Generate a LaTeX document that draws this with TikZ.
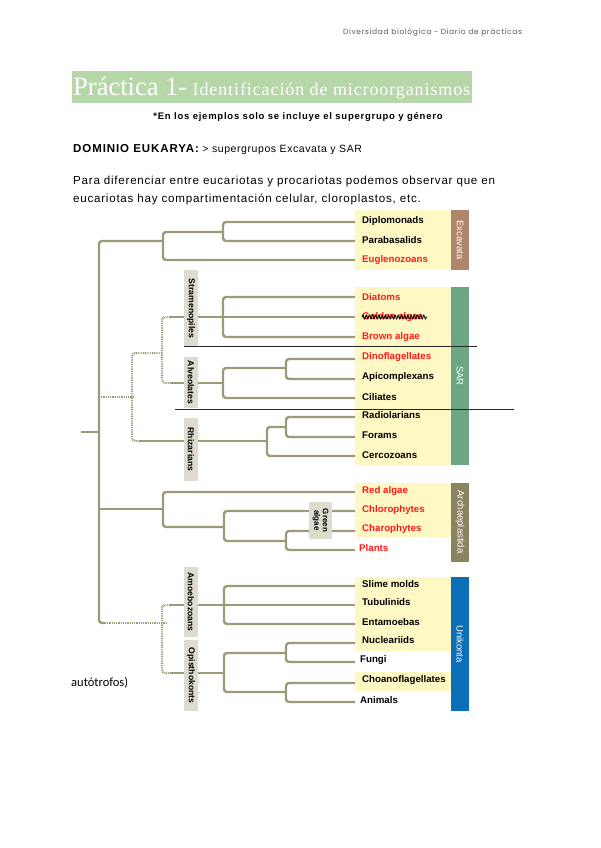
\documentclass[tikz,border=0pt]{standalone}
\usepackage{fontspec}
\setmainfont{Liberation Sans}
\newfontfamily\serifx{Liberation Serif}
\newfontfamily\serifsp[LetterSpace=5]{Liberation Serif}
\newfontfamily\hdrfont[LetterSpace=8.5]{Poppins}
\newfontfamily\calfont{Carlito}
\newfontfamily\spfont[LetterSpace=5.5]{Liberation Sans}
\newfontfamily\parfont[LetterSpace=6.5]{Liberation Sans}
\newfontfamily\notefont[LetterSpace=8]{Liberation Sans}
\newfontfamily\domfont[LetterSpace=8]{Liberation Sans}
\usetikzlibrary{decorations.pathmorphing}
\definecolor{brc}{HTML}{9C9A78}
\definecolor{ylw}{HTML}{FEF9C4}
\definecolor{gbox}{HTML}{DEDCCF}
\definecolor{titleg}{HTML}{B6D7A8}
\definecolor{excc}{HTML}{B0866A}
\definecolor{sarc}{HTML}{6BA785}
\definecolor{arcc}{HTML}{8A8462}
\definecolor{unic}{HTML}{0B6FB8}
\definecolor{redt}{HTML}{FF1A1A}
\tikzset{
  br/.style={draw=brc, line width=2.4pt, rounded corners=3pt},
  dotbr/.style={draw=brc, line width=2pt, dash pattern=on 0.9pt off 0.9pt, rounded corners=3pt},
  leaf/.style={anchor=west, inner sep=0pt, font=\fontsize{9.7}{10}\selectfont\bfseries},
  grp/.style={fill=gbox, inner sep=0pt, rotate=-90, font=\fontsize{8.6}{9}\selectfont\bfseries},
  bar/.style={inner sep=0pt, rotate=-90, text=white, font=\fontsize{9.5}{10}\selectfont},
  cut/.style={draw=black!85, line width=0.9pt}
}
\begin{document}
\begin{tikzpicture}[x=1pt,y=-1pt]
\useasboundingbox (0,0) rectangle (600,848);
% header
\node[anchor=west, inner sep=0pt, text=black!65, font=\hdrfont\fontsize{7.5}{8}\selectfont] (hdr) at (343,33) {Diversidad biológica - Diario de prácticas};
% title
\fill[titleg] (72,71) rectangle (472,103);
\node[anchor=base west, inner sep=0pt, text=white] (title) at (73,96) {\serifx\fontsize{26.5}{28}\selectfont Práctica 1-\serifsp\fontsize{18}{18}\selectfont{} Identificación de microorganismos};
% note
\node[inner sep=0pt, font=\notefont\fontsize{9.5}{10}\selectfont\bfseries] (note) at (298,117) {*En los ejemplos solo se incluye el supergrupo y género};
\node[anchor=west, inner sep=0pt] (dom) at (73,150) {\domfont\fontsize{11.5}{12}\selectfont\bfseries DOMINIO EUKARYA:\spfont\fontsize{10.5}{12}\selectfont\mdseries{} > supergrupos Excavata y SAR};
\node[anchor=west, inner sep=0pt, font=\parfont\fontsize{11.6}{17}\selectfont] (p1) at (73,182) {Para diferenciar entre eucariotas y procariotas podemos observar que en};
\node[anchor=west, inner sep=0pt, font=\parfont\fontsize{11.6}{17}\selectfont] (p2) at (73,199) {eucariotas hay compartimentación celular, cloroplastos, etc.};
\node[anchor=west, inner sep=0pt, font=\calfont\fontsize{12.5}{14}\selectfont] (auto) at (71,683) {autótrofos)};

% yellow boxes
\fill[ylw] (355,210) rectangle (451,270);
\fill[ylw] (355,287) rectangle (451,465);
\fill[ylw] (355,483) rectangle (451,537);
\fill[ylw] (355,577) rectangle (451,651);
\fill[ylw] (355,672) rectangle (451,691);
% colored bars
\fill[excc] (451,210) rectangle (469,270);
\fill[sarc] (451,287) rectangle (469,465);
\fill[arcc] (451,483) rectangle (469,562);
\fill[unic] (451,577) rectangle (469,711);
\node[bar] (exc) at (460,240) {Excavata};
\node[bar] (sar) at (460,376) {SAR};
\node[bar] (arc) at (460,522) {Archaeplastida};
\node[bar] (uni) at (460,644) {Unikonta};

% leaf coordinates
\foreach \n/\y in {dip/222,par/241,eug/260,dia/297,gol/317,bro/337,din/359,api/379,cil/398,rad/417,for/437,cer/456,red/492,chl/511,cha/531,pla/550,sli/586,tub/605,ent/624,nuc/643,fun/662,cho/683,ani/702}
  \coordinate (\n) at (355,\y);

% tree
\draw[br] (81,432) -- (99,432);
\draw[br] (163,241) -- (99,241) -- (99,623) -- (105,623);
\draw[dotbr] (105,623) -- (168,623);
% Excavata
\draw[br] (dip) -- (223,222) -- (223,241) -- (par);
\draw[br] (223,232) -- (163,232) -- (163,260) -- (eug);
% SAR
\draw[dotbr] (99,397) -- (134,397);
\draw[dotbr] (162,353) -- (132,353) -- (132,441) -- (140,441);
\draw[br] (140,441) -- (267,441);
\draw[dotbr] (170,317) -- (162,317) -- (162,383) -- (170,383);
\draw[br] (170,317) -- (gol);
\draw[br] (dia) -- (223,297) -- (223,337) -- (bro);
\draw[br] (170,383) -- (223,383);
\draw[br] (286,368) -- (223,368) -- (223,398) -- (cil);
\draw[br] (din) -- (286,359) -- (286,379) -- (api);
\draw[br] (286,427) -- (267,427) -- (267,456) -- (cer);
\draw[br] (rad) -- (286,417) -- (286,437) -- (for);
% Archaeplastida
\draw[br] (99,509) -- (163,509);
\draw[br] (red) -- (163,492) -- (163,527) -- (224,527);
\draw[br] (chl) -- (224,511) -- (224,541) -- (286,541);
\draw[br] (cha) -- (286,531) -- (286,550) -- (pla);
% Unikonta
\draw[dotbr] (170,605) -- (162,605) -- (162,673) -- (170,673);
\draw[br] (170,605) -- (tub);
\draw[br] (sli) -- (224,586) -- (224,624) -- (ent);
\draw[br] (170,673) -- (224,673);
\draw[br] (286,653) -- (224,653) -- (224,692) -- (286,692);
\draw[br] (nuc) -- (286,643) -- (286,662) -- (fun);
\draw[br] (cho) -- (286,683) -- (286,702) -- (ani);

% group boxes
\node[grp, minimum width=77pt, minimum height=14pt] (stra) at (191,308.5) {Stramenopiles};
\node[grp, minimum width=51pt, minimum height=14pt] (alv) at (191,382.5) {Alveolates};
\node[grp, minimum width=63pt, minimum height=14pt] (rhi) at (191,449.5) {Rhizarians};
\node[grp, minimum width=70pt, minimum height=14pt] (amo) at (191,602) {Amoebozoans};
\node[grp, minimum width=71pt, minimum height=14pt] (opi) at (191,675.5) {Opisthokonts};
\node[grp, minimum width=37pt, minimum height=23pt, align=center, font=\fontsize{8}{8.5}\selectfont\bfseries] (gre) at (320.5,520.5) {Green\\algae};

% leaf labels
\node[leaf] (tdip) at (362,221) {Diplomonads};
\node[leaf] (tpar) at (362,240) {Parabasalids};
\node[leaf, text=redt] (teug) at (362,260) {Euglenozoans};
\node[leaf, text=redt] (tdia) at (362,297) {Diatoms};
\node[leaf, text=redt] (tgol) at (362,317) {Golden algae};
\draw[black, line width=0.8pt, decorate, decoration={snake, segment length=3.2pt, amplitude=2pt}] (tgol.west) -- ([xshift=4pt]tgol.east);
\node[leaf, text=redt] (tbro) at (362,337) {Brown algae};
\node[leaf, text=redt] (tdin) at (362,357) {Dinoflagellates};
\node[leaf] (tapi) at (362,377) {Apicomplexans};
\node[leaf] (tcil) at (362,397) {Ciliates};
\node[leaf] (trad) at (362,415) {Radiolarians};
\node[leaf] (tfor) at (362,435) {Forams};
\node[leaf] (tcer) at (362,455) {Cercozoans};
\node[leaf, text=redt] (tred) at (362,491) {Red algae};
\node[leaf, text=redt] (tchl) at (362,510) {Chlorophytes};
\node[leaf, text=redt] (tcha) at (362,529) {Charophytes};
\node[leaf, text=redt] (tpla) at (359,548) {Plants};
\node[leaf] (tsli) at (362,584) {Slime molds};
\node[leaf] (ttub) at (362,602) {Tubulinids};
\node[leaf] (tent) at (362,622) {Entamoebas};
\node[leaf] (tnuc) at (362,640) {Nucleariids};
\node[leaf] (tfun) at (360,660) {Fungi};
\node[leaf] (tcho) at (362,680) {Choanoflagellates};
\node[leaf] (tani) at (360,700) {Animals};

% cut lines
\draw[cut] (184,346) -- (477,346);
\draw[cut] (175,409) -- (514,409);
\end{tikzpicture}
\end{document}
